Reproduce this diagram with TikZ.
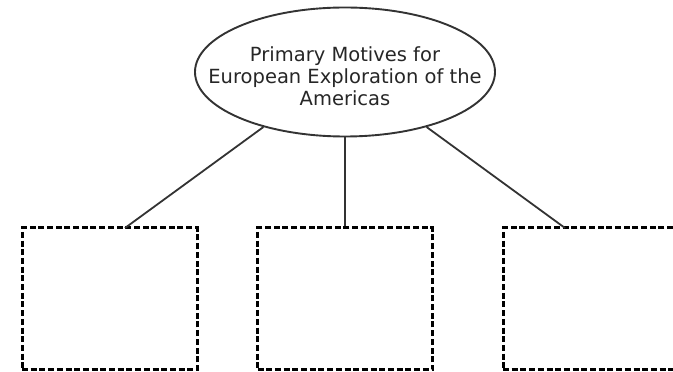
\documentclass[tikz,border=0pt]{standalone}
\usepackage{fontspec}
\setmainfont{DejaVu Sans}
\usetikzlibrary{shapes.geometric}

\begin{document}
\begin{tikzpicture}[x=1pt,y=1pt,
	motive/.style={draw, line width=3pt, dash pattern=on 6pt off 2.7pt, minimum width=175pt, minimum height=142pt, inner sep=0pt},
	link/.style={line width=1.8pt, draw=black!80}]
	\useasboundingbox (0,0) rectangle (673,372);
	\clip (0,0) rectangle (673,372);
	
	%title ellipse
	\node[draw=black!80, line width=1.9pt, ellipse, minimum width=300pt, minimum height=129pt, inner sep=0pt] (motives) at (345,300) {};
	\node[align=center, text=black!85, font=\fontsize{19.5}{22}\selectfont] (title) at (345,296) {Primary Motives for\\European Exploration of the\\Americas};
	
	%boxes
	\node[motive] (leftbox)  at (109.5,73) {};
	\node[motive] (midbox)   at (345,73) {};
	\node[motive] (rightbox) at (590.5,73) {};
	
	%links
	\coordinate (lefttop)  at (125,144);
	\coordinate (righttop) at (565,144);
	\draw[link] (motives.214) -- (lefttop);
	\draw[link] (motives.south) -- (midbox.north);
	\draw[link] (motives.-34) -- (righttop);
\end{tikzpicture}
\end{document}
